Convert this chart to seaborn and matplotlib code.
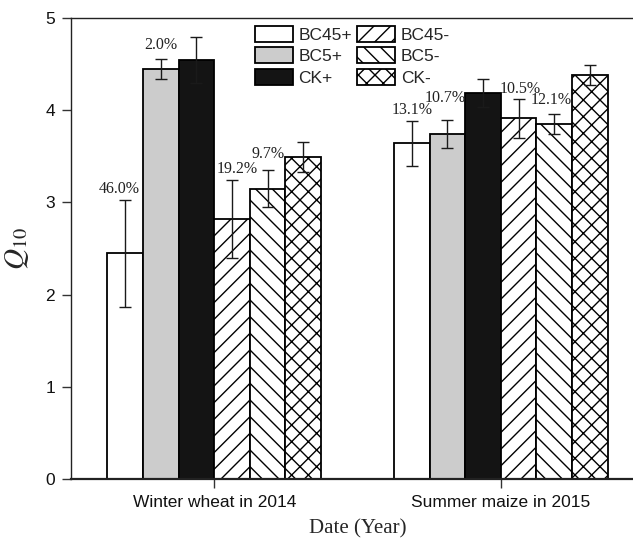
import matplotlib
matplotlib.use("Agg")
import matplotlib.pyplot as plt
from matplotlib.patches import Patch
import numpy as np
import pandas as pd
import seaborn as sns

# Q10 per crop season and treatment
seasons = ["Winter wheat in 2014", "Summer maize in 2015"]
treatments = ["BC45+", "BC5+", "CK+", "BC45-", "BC5-", "CK-"]
q10_wheat = [2.45, 4.45, 4.54, 2.82, 3.15, 3.49]
q10_maize = [3.64, 3.74, 4.19, 3.91, 3.85, 4.38]
err_wheat = [0.58, 0.11, 0.25, 0.42, 0.20, 0.16]
err_maize = [0.24, 0.155, 0.15, 0.21, 0.11, 0.11]
pct_wheat = ["46.0%", "2.0%", "", "19.2%", "9.7%", ""]
pct_maize = ["13.1%", "10.7%", "", "10.5%", "12.1%", ""]

fills = ["white", "#cccccc", "#141414", "white", "white", "white"]
hatches = ["", "", "", "//", "\\\\", "xx"]
# label nudges (points) so neighbouring labels stay apart
nudge_x = [[-4.5, 0, 0, 3.5, 0, 0], [0, -1.5, 0, 1.5, -2, 0]]
nudge_y = [[2, 4, 0, 2, 6, 0], [2, 10, 0, 1.5, 4, 0]]

df = pd.DataFrame({
    "season": [seasons[0]] * 6 + [seasons[1]] * 6,
    "treatment": treatments * 2,
    "q10": q10_wheat + q10_maize,
})
errs = [err_wheat, err_maize]
pcts = [pct_wheat, pct_maize]

sns.set_style("ticks")
plt.rcParams["font.family"] = ["Liberation Sans", "DejaVu Sans"]
plt.rcParams["mathtext.fontset"] = "stix"
plt.rcParams["hatch.linewidth"] = 1.0
plt.rcParams["hatch.color"] = "black"

fig = plt.figure(figsize=(6.33, 5.38), dpi=100)
ax = fig.add_axes([71 / 633, 1 - 479 / 538, 573 / 633, 461 / 538])

sns.barplot(data=df, x="season", y="q10", hue="treatment",
            hue_order=treatments, order=seasons,
            palette=dict(zip(treatments, fills)), saturation=1,
            width=0.746, edgecolor="black", linewidth=1.3,
            errorbar=None, legend=False, ax=ax)

bar_groups = list(ax.containers)
for i, cont in enumerate(bar_groups):
    xs, ys = [], []
    for bar in cont.patches:
        bar.set_hatch(hatches[i])
        xs.append(bar.get_x() + bar.get_width() / 2)
        ys.append(bar.get_height())
    yerr = [errs[j][i] for j in range(len(seasons))]
    ax.errorbar(xs, ys, yerr=yerr, fmt="none", ecolor="#1a1a1a",
                elinewidth=1.0, capsize=4, capthick=1.0, zorder=5)
    for j in range(len(seasons)):
        txt = pcts[j][i]
        if txt:
            ax.annotate(txt, (xs[j], ys[j] + yerr[j]),
                        xytext=(nudge_x[j][i], nudge_y[j][i]),
                        textcoords="offset points", ha="center", va="bottom",
                        family="Liberation Serif", fontsize=11.5, color="#222222")

ax.set_ylim(0, 5)
ax.set_yticks(range(0, 6))
ax.set_xlim(-0.5, 1.5)
ax.tick_params(axis="both", direction="out", length=6.5, width=1.0,
               labelsize=12.5, color="#333333", labelcolor="#111111", pad=5)
for side in ["left", "top", "bottom", "right"]:
    ax.spines[side].set_visible(True)
    ax.spines[side].set_color("#222222")
ax.spines["left"].set_linewidth(1.0)
ax.spines["top"].set_linewidth(1.0)
ax.spines["bottom"].set_linewidth(1.6)

ax.set_xlabel("Date (Year)", family="Liberation Serif", fontsize=15, labelpad=7)
ax.set_ylabel(r"$Q_{10}$", fontsize=21, labelpad=10)

handles = [Patch(facecolor=f, edgecolor="black", hatch=h, linewidth=1.3, label=t)
           for f, h, t in zip(fills, hatches, treatments)]
fig.legend(handles=handles, ncol=2, loc="upper left",
           bbox_to_anchor=(255 / 633, 1 - 26 / 538), frameon=False,
           fontsize=12.5, handlelength=2.2, handleheight=1.05,
           handletextpad=0.3, labelspacing=0.25, columnspacing=0.3,
           borderpad=0, borderaxespad=0)

fig.savefig("out.png", dpi=100)
